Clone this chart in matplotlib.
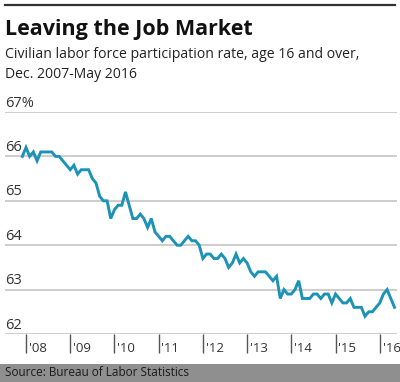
import matplotlib
matplotlib.use("Agg")
import matplotlib.pyplot as plt
import matplotlib.lines as mlines
import matplotlib.patches as patches
import pandas as pd

# monthly civilian labor force participation rate, Dec 2007 - May 2016
months = pd.date_range("2007-12-01", "2016-05-01", freq="MS")
rate = [
    66.0,
    66.2, 66.0, 66.1, 65.9, 66.1, 66.1, 66.1, 66.1, 66.0, 66.0, 65.9, 65.8,  # 2008
    65.7, 65.8, 65.6, 65.7, 65.7, 65.7, 65.5, 65.4, 65.1, 65.0, 65.0, 64.6,  # 2009
    64.8, 64.9, 64.9, 65.2, 64.9, 64.6, 64.6, 64.7, 64.6, 64.4, 64.6, 64.3,  # 2010
    64.2, 64.1, 64.2, 64.2, 64.1, 64.0, 64.0, 64.1, 64.2, 64.1, 64.1, 64.0,  # 2011
    63.7, 63.8, 63.8, 63.7, 63.7, 63.8, 63.7, 63.5, 63.6, 63.8, 63.6, 63.7,  # 2012
    63.6, 63.4, 63.3, 63.4, 63.4, 63.4, 63.3, 63.2, 63.3, 62.8, 63.0, 62.9,  # 2013
    62.9, 63.0, 63.2, 62.8, 62.8, 62.8, 62.9, 62.9, 62.8, 62.9, 62.9, 62.7,  # 2014
    62.9, 62.8, 62.7, 62.7, 62.8, 62.6, 62.6, 62.6, 62.4, 62.5, 62.5, 62.6,  # 2015
    62.7, 62.9, 63.0, 62.8, 62.6,  # 2016
]
years = [2008, 2009, 2010, 2011, 2012, 2013, 2014, 2015, 2016]
year_labels = ["'08", "'09", "'10", "'11", "'12", "'13", "'14", "'15", "'16"]
y_ticks = [62, 63, 64, 65, 66, 67]
y_labels = ["62", "63", "64", "65", "66", "67%"]

x = [d.year + (d.month - 1) / 12 for d in months]

W, H = 400, 382
fig = plt.figure(figsize=(W / 100, H / 100), dpi=100)
fig.patch.set_facecolor("white")

# axes placed in pixel coords
left, right, top, bottom = 5, 397, 112, 334
ax = fig.add_axes([left / W, 1 - bottom / H, (right - left) / W, (bottom - top) / H])
ax.set_xlim(2007.525, 2016.39)
ax.set_ylim(62, 67)
ax.patch.set_alpha(0)
for s in ax.spines.values():
    s.set_visible(False)

# gridlines + y labels
for v, lab in zip(y_ticks, y_labels):
    ax.axhline(v, color="#c9c9c9", lw=1.3, zorder=1)
    ax.text(2007.525, v + 0.2, lab, fontsize=10.5, color="#333333",
            va="center", ha="left", family="Open Sans")

ax.plot(x, rate, color="#1c93b6", lw=2.1, solid_joinstyle="miter", zorder=3)

# year ticks below axis
ax.set_yticks([])
ax.set_xticks(years)
ax.set_xticklabels([])
ax.tick_params(axis="x", length=14, width=1.0, color="#555555", direction="out")
for yr, lab in zip(years, year_labels):
    ax.annotate(lab, xy=(yr, 62), xytext=(2, -10.5), textcoords="offset points",
                fontsize=9.5, color="#333333", ha="left", va="center", family="Open Sans")

# top rule
fig.add_artist(mlines.Line2D([5 / W, 395 / W], [1 - 5 / H, 1 - 5 / H],
                             color="#333333", lw=1.6))

fig.text(5 / W, 1 - 29 / H, "Leaving the Job Market", fontsize=15.5, fontweight="bold",
         va="center", ha="left", color="#111111", family="Open Sans")
fig.text(5 / W, 1 - 55 / H, "Civilian labor force participation rate, age 16 and over,",
         fontsize=10.1, va="center", ha="left", color="#222222", family="Open Sans")
fig.text(5 / W, 1 - 75 / H, "Dec. 2007-May 2016",
         fontsize=10.1, va="center", ha="left", color="#222222", family="Open Sans")

# source bar
fig.add_artist(patches.Rectangle((0, 0), 1, 18 / H, transform=fig.transFigure,
                                 facecolor="#8f8f8f", edgecolor="none"))
fig.text(5 / W, 9 / H, "Source: Bureau of Labor Statistics", fontsize=8.5,
         va="center", ha="left", color="#1a1a1a", family="Open Sans")

fig.savefig("out.png", dpi=100)
